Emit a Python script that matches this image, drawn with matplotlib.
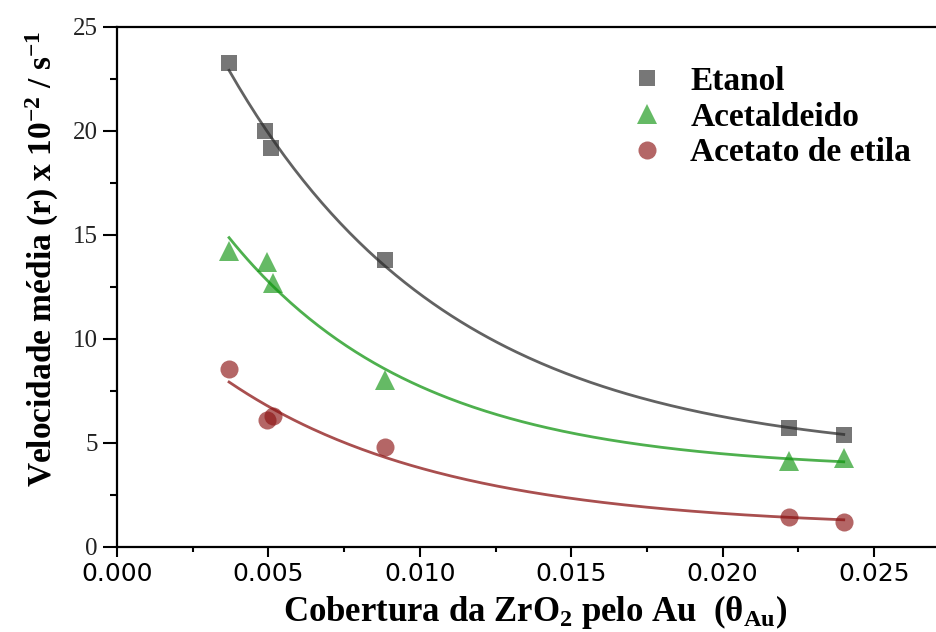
import matplotlib

matplotlib.use("Agg")
import matplotlib.pyplot as plt
import numpy as np
from matplotlib.ticker import MultipleLocator

plt.rcParams["mathtext.default"] = "regular"

# Au coverage of ZrO2 and mean rates (x 10^-2 s^-1)
x_etanol = np.array([0.0037, 0.0049, 0.0051, 0.00885, 0.0222, 0.0240])
y_etanol = np.array([23.27, 20.0, 19.18, 13.8, 5.7, 5.4])

x_acetald = np.array([0.0037, 0.00495, 0.00515, 0.00885, 0.0222, 0.0240])
y_acetald = np.array([14.25, 13.7, 12.7, 8.05, 4.15, 4.28])

x_acetato = np.array([0.0037, 0.00495, 0.00515, 0.00885, 0.0222, 0.0240])
y_acetato = np.array([8.56, 6.1, 6.3, 4.8, 1.45, 1.2])

labels = ["Etanol", "Acetaldeido", "Acetato de etila"]
colors = ["#2e2e2e", "#129612", "#8c1414"]
markers = ["s", "^", "o"]


def expdec_fit(x, y):
    # y = y0 + A*exp(-x/t), least squares over a grid of t
    best = None
    for t in np.linspace(0.0005, 0.05, 4000):
        M = np.column_stack([np.ones_like(x), np.exp(-x / t)])
        coef = np.linalg.lstsq(M, y, rcond=None)[0]
        sse = np.sum((M @ coef - y) ** 2)
        if best is None or sse < best[0]:
            best = (sse, coef[0], coef[1], t)
    return best[1:]


fig = plt.figure(figsize=(9.37, 6.32), dpi=100)
ax = fig.add_axes([0.1249, 0.1345, 0.8751, 0.8228])

series = [(x_etanol, y_etanol), (x_acetald, y_acetald), (x_acetato, y_acetato)]
for (xs, ys), lab, col, mk in zip(series, labels, colors, markers):
    y0, A, t = expdec_fit(xs, ys)
    xf = np.linspace(xs.min(), xs.max(), 200)
    ax.plot(xf, y0 + A * np.exp(-xf / t), color=col, lw=2, alpha=0.75, zorder=2)
    ms = 12 if mk == "s" else (14 if mk == "^" else 13)
    ax.plot(xs, ys, mk, color=col, ms=ms, mew=0, alpha=0.65, label=lab, zorder=3)

ax.set_xlim(0, 0.02708)
ax.set_ylim(0, 25)
ax.xaxis.set_major_locator(MultipleLocator(0.005))
ax.xaxis.set_minor_locator(MultipleLocator(0.0025))
ax.yaxis.set_major_locator(MultipleLocator(5))
ax.yaxis.set_minor_locator(MultipleLocator(2.5))
ax.xaxis.set_major_formatter(plt.FormatStrFormatter("%.3f"))

for s in ["left", "bottom", "top"]:
    ax.spines[s].set_linewidth(1.6)
ax.spines["right"].set_visible(False)

ax.tick_params(axis="x", which="major", direction="out", length=7.5, width=1.5, pad=3,
               labelsize=18, top=False)
ax.tick_params(axis="x", which="minor", direction="out", length=3.8, width=1.5, top=False)
ax.tick_params(axis="y", which="major", direction="out", length=10, width=1.5, pad=4,
               labelsize=18)
ax.tick_params(axis="y", which="minor", direction="out", length=5, width=1.5)
for lbl in ax.get_xticklabels():
    lbl.set_family("DejaVu Sans")
for lbl in ax.get_yticklabels():
    lbl.set_family("Liberation Serif")
    lbl.set_color("#222222")

ax.set_ylabel("Velocidade média (r) x 10$^{-2}$ / s$^{-1}$", family="Liberation Serif",
              fontweight="bold", fontsize=24)
ax.yaxis.set_label_coords(-0.068, 0.555)
ax.set_xlabel("Cobertura da ZrO$_{2}$ pelo Au  (θ$_{Au}$)", family="Liberation Serif",
              fontweight="bold", fontsize=25)
ax.xaxis.set_label_coords(0.51, -0.088)

ax.legend(loc="upper left", bbox_to_anchor=(0.618, 0.925), frameon=False, numpoints=1,
          handlelength=1.4, handletextpad=0.6, labelspacing=0.14, borderpad=0,
          borderaxespad=0, prop={"family": "Liberation Serif", "weight": "bold", "size": 24})

fig.savefig("out.png", dpi=100)
